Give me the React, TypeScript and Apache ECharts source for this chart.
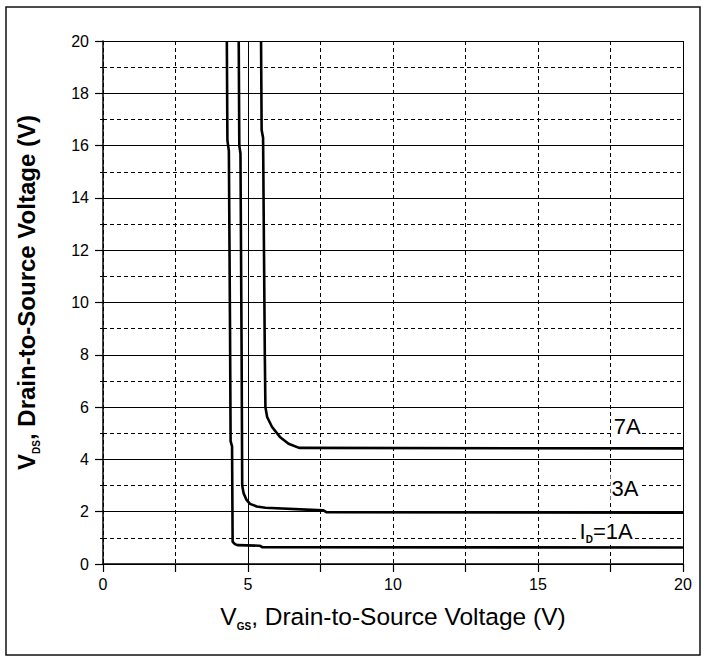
import React, { useEffect, useRef } from 'react';
import * as echarts from 'echarts';

// V_GS (x) vs V_DS (y) curves for each drain current
const curve1A: [number, number][] = [
  [4.27, 20], [4.29, 16.2], [4.34, 15.8], [4.38, 9.0], [4.40, 4.7], [4.45, 4.5],
  [4.47, 0.85], [4.55, 0.76], [4.65, 0.72], [5.40, 0.70], [5.50, 0.64], [20, 0.63],
];
const curve3A: [number, number][] = [
  [4.68, 20], [4.70, 16.0], [4.74, 15.7], [4.78, 8.0], [4.80, 3.0], [4.85, 2.7],
  [4.95, 2.45], [5.07, 2.30], [5.30, 2.20], [5.60, 2.15], [7.60, 2.05], [7.70, 1.98], [20, 1.96],
];
const curve7A: [number, number][] = [
  [5.45, 20], [5.47, 16.6], [5.52, 16.3], [5.58, 8.0], [5.60, 6.0], [5.66, 5.62],
  [5.83, 5.24], [6.10, 4.86], [6.40, 4.60], [6.76, 4.44], [20, 4.42],
];
const curves = [curve1A, curve3A, curve7A];

const curveLabels = ['{a|I}{s|D}{a|=1A}', '{a|3A}', '{a|7A}'];
const labelX = [17.35, 18.0, 18.08];
const labelY = [1.26, 2.9, 5.26];

const xTickLabels = ['0', '5', '10', '15', '20'];
const yTickLabels = ['0', '2', '4', '6', '8', '10', '12', '14', '16', '18', '20'];

const FONT = '"Liberation Sans", Arial, sans-serif';

export default function App() {
  const ref = useRef<HTMLDivElement>(null);
  useEffect(() => {
    if (!ref.current) return;
    const chart = echarts.init(ref.current, undefined, { renderer: 'svg' });
    const lineSeries: any[] = curves.map((c, i) => ({
      type: 'line',
      data: c,
      showSymbol: false,
      symbol: 'none',
      lineStyle: { color: '#000', width: 2.6 },
      z: 3,
      ...(i === 0
        ? {
            markLine: {
              silent: true,
              symbol: ['none', 'none'],
              label: { show: false },
              lineStyle: { type: 'solid', color: '#000', width: 1 },
              data: [{ xAxis: 5 }, { xAxis: 20 }],
            },
          }
        : {}),
    }));
    const option: any = {
      animation: false,
      backgroundColor: '#fff',
      grid: { left: 103, top: 41, right: 24, bottom: 97 },
      xAxis: {
        type: 'value',
        min: 0,
        max: 20,
        interval: 2.5,
        name: '{v|V}{s|GS}{n|, Drain-to-Source Voltage (V)}',
        nameLocation: 'middle',
        nameGap: 37,
        nameTextStyle: {
          rich: {
            v: { fontSize: 24.5, fontFamily: FONT, color: '#000', lineHeight: 30 },
            s: { fontSize: 10, fontFamily: FONT, fontWeight: 'bold', color: '#000', verticalAlign: 'bottom', lineHeight: 12 },
            n: { fontSize: 24.5, fontFamily: FONT, color: '#000', lineHeight: 30 },
          },
        },
        axisLine: { lineStyle: { color: '#000', width: 1.5 } },
        axisTick: { show: true, length: 8, lineStyle: { color: '#000', width: 1.2 } },
        axisLabel: {
          margin: 12,
          fontSize: 16,
          fontFamily: FONT,
          color: '#000',
          formatter: (v: number) => {
            const idx = xTickLabels.indexOf(String(v));
            return idx >= 0 ? xTickLabels[idx] : '';
          },
        },
        splitLine: { show: true, lineStyle: { type: [4, 3], color: '#000', width: 1 } },
      },
      yAxis: [
        {
          type: 'value',
          min: 0,
          max: 20,
          interval: 2,
          position: 'left',
          name: '{v|V}{s|DS}{n|, Drain-to-Source Voltage (V)}',
          nameLocation: 'middle',
          nameRotate: 90,
          nameGap: 62,
          nameTextStyle: {
            padding: [0, 0, 0, 20],
            rich: {
              v: { fontSize: 24, fontWeight: 'bold', fontFamily: FONT, color: '#000', lineHeight: 30 },
              s: { fontSize: 10, fontWeight: 'bold', fontFamily: FONT, color: '#000', verticalAlign: 'bottom', lineHeight: 12 },
              n: { fontSize: 24, fontWeight: 'bold', fontFamily: FONT, color: '#000', lineHeight: 30 },
            },
          },
          axisLine: { show: true, lineStyle: { color: '#000', width: 1.5 } },
          axisTick: { show: true, length: 8, lineStyle: { color: '#000', width: 1.2 } },
          axisLabel: {
            margin: 14,
            fontSize: 16,
            fontFamily: FONT,
            color: '#000',
            formatter: (v: number) => {
              const idx = yTickLabels.indexOf(String(v));
              return idx >= 0 ? yTickLabels[idx] : '';
            },
          },
          splitLine: { show: true, lineStyle: { type: 'solid', color: '#000', width: 1 } },
        },
        {
          type: 'value',
          min: 0,
          max: 20,
          interval: 1,
          position: 'left',
          axisLine: { show: false },
          axisTick: { show: true, length: 3, lineStyle: { color: '#000', width: 1 } },
          axisLabel: { show: false },
          splitLine: { show: true, lineStyle: { type: [4, 3], color: '#000', width: 1 } },
        },
      ],
      graphic: [
        {
          type: 'rect',
          shape: { x: 6, y: 7, width: 694, height: 648 },
          style: { fill: 'none', stroke: '#111', lineWidth: 1.5 },
          silent: true,
          z: 100,
        },
      ],
      series: [
        ...lineSeries,
        {
          type: 'scatter',
          symbolSize: 0,
          itemStyle: { color: '#000' },
          z: 10,
          data: labelX.map((x, i) => [x, labelY[i]]),
          label: {
            show: true,
            position: 'inside',
            color: '#000',
            textBorderWidth: 0,
            opacity: 1,
            formatter: (p: any) => curveLabels[p.dataIndex],
            backgroundColor: '#fff',
            padding: [0, 1],
            rich: {
              a: { fontSize: 22, fontFamily: FONT, color: '#000', lineHeight: 26, textBorderWidth: 0 },
              s: { fontSize: 10, fontWeight: 'bold', fontFamily: FONT, color: '#000', verticalAlign: 'bottom', lineHeight: 12, textBorderWidth: 0 },
            },
          },
        },
      ],
    };
    chart.setOption(option);
    return () => chart.dispose();
  }, []);
  return (
    <div
      ref={ref}
      style={{ position: 'fixed', left: 0, top: 0, width: 707, height: 661, background: '#fff' }}
    />
  );
}
